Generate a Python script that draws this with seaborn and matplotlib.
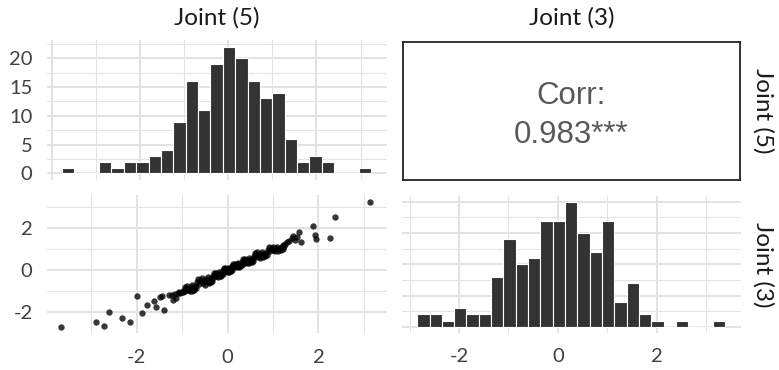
import matplotlib
matplotlib.use("Agg")
import matplotlib.pyplot as plt
import seaborn as sns

# ---------------- data ----------------
var_names = ["Joint (5)", "Joint (3)"]
corr_label = "Corr:"
corr_value = "0.983***"

# Joint (5) values (x of scatter), paired positionally with Joint (3)
joint5 = [
    -3.67, -2.90, -2.73, -2.62, -2.33, -2.16, -2.00, -1.88,
    -1.78, -1.62, -1.57, -1.50, -1.45, -1.40, -1.29,
    -1.23, -1.20, -1.17, -1.14, -1.10, -1.07, -1.04, -1.01, -0.98,
    -0.96, -0.94, -0.93, -0.91, -0.89, -0.87, -0.85, -0.83,
    -0.81, -0.79, -0.78, -0.76, -0.74, -0.73, -0.71, -0.70,
    -0.68, -0.65, -0.63, -0.60, -0.57, -0.55, -0.52, -0.49,
    -0.47, -0.44, -0.42, -0.40, -0.39, -0.37, -0.36, -0.34,
    -0.33, -0.31, -0.29, -0.28, -0.26, -0.25, -0.23, -0.22,
    -0.20, -0.19, -0.17, -0.16, -0.15, -0.14, -0.12, -0.11,
    -0.10, -0.08, -0.07, -0.06, -0.04, -0.03, -0.02, 0.00,
    0.01, 0.02, 0.03, 0.05, 0.06, 0.07, 0.08, 0.09,
    0.10, 0.12, 0.13, 0.14, 0.16, 0.17, 0.19, 0.20,
    0.21, 0.23, 0.24, 0.25, 0.27, 0.28, 0.29, 0.31,
    0.32, 0.34, 0.35, 0.36, 0.38, 0.39, 0.40, 0.42,
    0.44, 0.46, 0.47, 0.49, 0.51, 0.53, 0.54, 0.56,
    0.58, 0.60, 0.61, 0.63, 0.65, 0.67, 0.69, 0.71,
    0.73, 0.75, 0.77, 0.79, 0.81, 0.83, 0.85, 0.87,
    0.89, 0.91, 0.94, 0.96, 0.99, 1.01, 1.03, 1.05,
    1.07, 1.09, 1.11, 1.13, 1.15, 1.17, 1.19, 1.21,
    1.23, 1.25, 1.27,
    3.13, 2.36, 1.87, 2.25, 1.92, 1.94, 1.58, 1.61,
    1.53, 1.49, 1.41, 1.36, 1.30, 1.44,
]

joint3 = [
    -2.71, -2.50, -2.69, -2.00, -2.29, -2.46, -1.26, -2.05,
    -1.69, -1.50, -1.76, -1.30, -1.24, -1.89, -1.20,
    -1.18, -1.42, -1.14, -1.34, -1.11, -1.05, -1.09, -1.04, -1.07,
    -0.93, -0.79, -1.00, -0.86, -0.74, -0.96, -0.89, -1.02,
    -0.81, -0.71, -0.98, -0.91, -0.84, -0.95, -0.76, -0.88,
    -0.57, -0.41, -0.66, -0.48, -0.37, -0.61, -0.52, -0.69,
    -0.43, -0.35, -0.64, -0.55, -0.46, -0.59, -0.39, -0.50,
    -0.26, -0.15, -0.32, -0.20, -0.12, -0.29, -0.23, -0.33,
    -0.17, -0.11, -0.30, -0.24, -0.18, -0.27, -0.14, -0.21,
    -0.02, 0.08, -0.08, 0.04, 0.11, -0.05, 0.01, -0.10,
    0.07, 0.12, -0.07, -0.01, 0.05, -0.04, 0.10, 0.02,
    0.20, 0.29, 0.15, 0.25, 0.31, 0.18, 0.23, 0.14,
    0.28, 0.33, 0.16, 0.21, 0.26, 0.19, 0.30, 0.24,
    0.40, 0.52, 0.35, 0.47, 0.55, 0.38, 0.43, 0.34,
    0.50, 0.57, 0.36, 0.42, 0.48, 0.39, 0.53, 0.45,
    0.67, 0.81, 0.60, 0.75, 0.85, 0.63, 0.71, 0.58,
    0.79, 0.87, 0.62, 0.69, 0.77, 0.65, 0.83, 0.73,
    0.97, 1.08, 0.91, 1.03, 1.11, 0.94, 1.00, 0.90,
    1.06, 1.12, 0.93, 0.99, 1.05, 0.96, 1.09, 1.02,
    1.19, 1.13, 1.25,
    3.27, 2.55, 2.11, 1.52, 1.68, 1.49, 1.84, 1.36,
    1.60, 1.44, 1.55, 1.40, 1.33, 1.62,
]

x_ticks = [-2, 0, 2]
count_ticks = [0, 5, 10, 15, 20]

# ---------------- styling ----------------
plt.rcParams["font.family"] = ["Lato", "DejaVu Sans"]
plt.rcParams["axes.unicode_minus"] = False

W, H = 779, 370
fig = plt.figure(figsize=(W / 100, H / 100), dpi=100)
fig.patch.set_facecolor("white")


def add_ax(x0, x1, y0, y1):
    return fig.add_axes([x0 / W, 1 - y1 / H, (x1 - x0) / W, (y1 - y0) / H])


GRID = "#E3E3E3"
TICK_COL = "#404040"
STRIP_COL = "#1A1A1A"
BAR_COL = "#333333"


def minimal(ax, xmaj, xmin, ymaj, ymin):
    for s in ax.spines.values():
        s.set_visible(False)
    ax.set_facecolor("white")
    ax.set_axisbelow(True)
    ax.set_xticks(xmaj)
    ax.set_xticks(xmin, minor=True)
    ax.set_yticks(ymaj)
    ax.set_yticks(ymin, minor=True)
    ax.grid(which="major", color=GRID, linewidth=1.4)
    ax.grid(which="minor", color=GRID, linewidth=0.75)
    ax.tick_params(which="both", length=0, labelsize=14.5, colors=TICK_COL)
    ax.tick_params(axis="y", pad=10)
    ax.tick_params(axis="x", pad=11)
    ax.set_xlabel("")
    ax.set_ylabel("")


# top-left: histogram of Joint (5)
ax_tl = add_ax(46.5, 386.5, 40.4, 179.6)
sns.histplot(x=joint5, bins=25, binrange=(-3.78, 3.245), ax=ax_tl,
             color=BAR_COL, edgecolor="white", linewidth=0.8, alpha=1)
ax_tl.set_xlim(-4.13, 3.59)
ax_tl.set_ylim(-1.1, 23.1)
minimal(ax_tl, [-4, -2, 0, 2], [-3, -1, 1, 3], count_ticks,
        [2.5, 7.5, 12.5, 17.5, 22.5])
ax_tl.tick_params(labelbottom=False)

# bottom-left: scatter
ax_bl = add_ax(46.5, 386.5, 195.3, 333.3)
sns.scatterplot(x=joint5, y=joint3, ax=ax_bl, color="black", alpha=0.78,
                s=21, linewidth=0, edgecolor=None)
ax_bl.set_xlim(-3.99, 3.5)
ax_bl.set_ylim(-3.02, 3.57)
minimal(ax_bl, x_ticks, [-3, -1, 1, 3], [-2, 0, 2], [-3, -1, 1, 3])

# bottom-right: histogram of Joint (3)
ax_br = add_ax(401.6, 740.6, 195.5, 333.0)
sns.histplot(x=joint3, bins=25, binrange=(-2.845, 3.380), ax=ax_br,
             color=BAR_COL, edgecolor="white", linewidth=0.8, alpha=1)
ax_br.set_xlim(-3.16, 3.69)
ax_br.set_ylim(-1, 21)
minimal(ax_br, x_ticks, [-3, -1, 1, 3], count_ticks,
        [2.5, 7.5, 12.5, 17.5])
ax_br.tick_params(labelleft=False)

# top-right: correlation box
ax_tr = add_ax(402.5, 740.0, 41.5, 180.0)
ax_tr.set_xticks([])
ax_tr.set_yticks([])
for s in ax_tr.spines.values():
    s.set_visible(True)
    s.set_color("#222222")
    s.set_linewidth(1.3)
box_h = 180.0 - 41.5
ax_tr.text(0.5, (180.0 - 104) / box_h, corr_label, transform=ax_tr.transAxes,
           ha="center", va="baseline", fontsize=22.5, color="#595959",
           family=["Liberation Sans", "DejaVu Sans"])
ax_tr.text(0.5, (180.0 - 143) / box_h, corr_value, transform=ax_tr.transAxes,
           ha="center", va="baseline", fontsize=22.5, color="#595959",
           family=["Liberation Sans", "DejaVu Sans"])


def fx(px):
    return px / W


def fy(py):
    return 1 - py / H


fig.text(fx(216.5), fy(18), var_names[0], ha="center", va="center",
         fontsize=17.5, color=STRIP_COL)
fig.text(fx(571.3), fy(18), var_names[1], ha="center", va="center",
         fontsize=17.5, color=STRIP_COL)
fig.text(fx(763), fy(110.7), var_names[0], ha="center", va="center",
         rotation=-90, fontsize=17.5, color=STRIP_COL)
fig.text(fx(763), fy(264.3), var_names[1], ha="center", va="center",
         rotation=-90, fontsize=17.5, color=STRIP_COL)

fig.savefig("out.png", dpi=100, facecolor="white")
